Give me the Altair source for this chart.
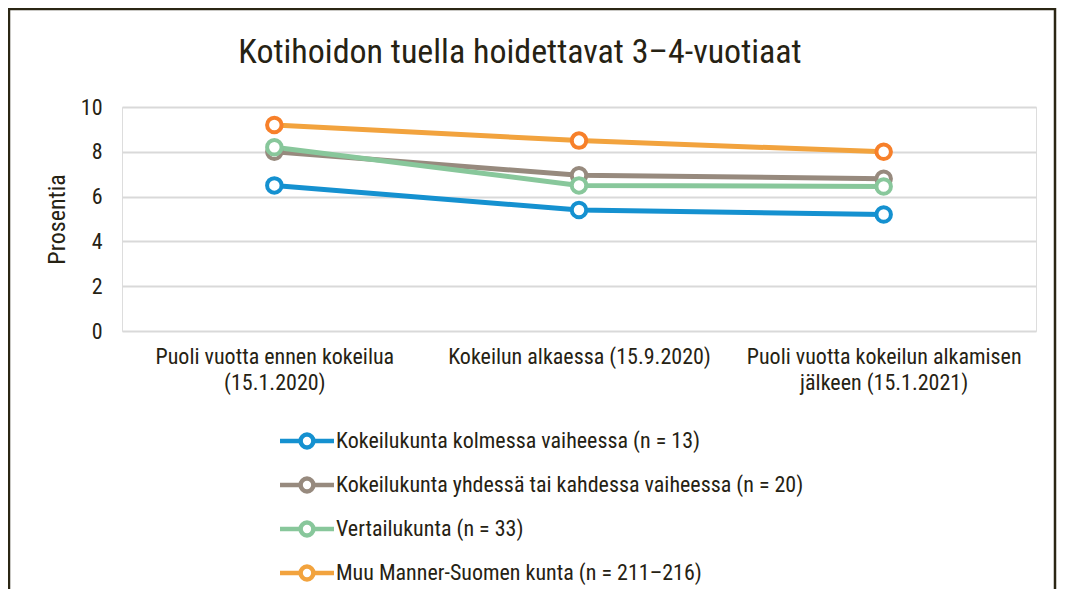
import altair as alt
import pandas as pd

periods = [
    "Puoli vuotta ennen kokeilua|(15.1.2020)",
    "Kokeilun alkaessa (15.9.2020)",
    "Puoli vuotta kokeilun alkamisen|jälkeen (15.1.2021)",
]
series = [
    "Kokeilukunta kolmessa vaiheessa (n = 13)",
    "Kokeilukunta yhdessä tai kahdessa vaiheessa (n = 20)",
    "Vertailukunta (n = 33)",
    "Muu Manner-Suomen kunta (n = 211–216)",
]
line_colors = ["#1591d0", "#978a7e", "#88c79b", "#f2a33e"]
point_colors = ["#1591d0", "#978a7e", "#88c79b", "#f7802a"]

blue_vals = [6.5, 5.4, 5.2]
gray_vals = [8.0, 6.95, 6.8]
green_vals = [8.2, 6.5, 6.45]
orange_vals = [9.2, 8.5, 8.0]

rows = []
for s, vals in zip(series, [blue_vals, gray_vals, green_vals, orange_vals]):
    for p, v in zip(periods, vals):
        rows.append({"series": s, "period": p, "value": v})
df = pd.DataFrame(rows)

FONT = "Roboto Condensed, Liberation Sans Narrow, Arial Narrow, sans-serif"
TXT = "#262213"

x_enc = alt.X(
    "period:N",
    sort=periods,
    scale=alt.Scale(paddingInner=0, paddingOuter=0),
    axis=alt.Axis(
        title=None,
        labelAngle=0,
        labelExpr="split(datum.label, '|')",
        labelFontSize=22,
        labelLineHeight=26,
        labelPadding=15,
        labelLimit=400,
        labelColor=TXT,
        labelFont=FONT,
        domain=False,
        ticks=False,
        grid=False,
    ),
)
y_enc = alt.Y(
    "value:Q",
    scale=alt.Scale(domain=[0, 10]),
    axis=alt.Axis(
        title="Prosentia",
        values=[0, 2, 4, 6, 8, 10],
        labelFontSize=22,
        labelPadding=20,
        labelColor=TXT,
        labelFont=FONT,
        titleFontSize=24,
        titleFontWeight="normal",
        titleColor=TXT,
        titleFont=FONT,
        titlePadding=11,
        domain=False,
        ticks=False,
        grid=True,
        gridColor="#d9d9d9",
        gridWidth=2,
    ),
)
legend = alt.Legend(
    title=None,
    orient="none",
    legendX=174,
    legendY=323,
    direction="vertical",
    symbolType="M-4,0H-0.95M0.95,0H4M0.95,0A0.95,0.95 0 1,1 -0.95,0A0.95,0.95 0 1,1 0.95,0Z",
    symbolSize=182,
    symbolStrokeWidth=4.5,
    symbolFillColor="white",
    labelFontSize=22,
    labelFont=FONT,
    labelColor=TXT,
    labelOffset=18,
    labelLimit=700,
    rowPadding=12,
    padding=0,
)

lines = alt.Chart(df).mark_line(strokeWidth=5).encode(
    x=x_enc,
    y=y_enc,
    color=alt.Color("series:N", sort=series, scale=alt.Scale(domain=series, range=line_colors), legend=legend),
)
points = alt.Chart(df).mark_point(
    filled=False, fill="white", fillOpacity=1, size=210, strokeWidth=4, opacity=1
).encode(
    x=x_enc,
    y=y_enc,
    color=alt.Color("series:N", sort=series, scale=alt.Scale(domain=series, range=point_colors), legend=None),
)

border = alt.Chart(pd.DataFrame({"b": [0]})).mark_rect(
    fillOpacity=0, stroke="#2b2614", strokeWidth=2.5
).encode(
    x=alt.value(-113), x2=alt.value(933), y=alt.value(-98), y2=alt.value(600)
)

chart = alt.layer(border, lines, points).resolve_scale(color="independent").properties(
    width=914,
    height=224,
    title=alt.Title(
        "Kotihoidon tuella hoidettavat 3–4-vuotiaat",
        fontSize=34,
        fontWeight="normal",
        font=FONT,
        color=TXT,
        anchor="middle",
        baseline="alphabetic",
        dx=-59,
        offset=-89,
    ),
    autosize=alt.AutoSizeParams(type="none"),
    padding={"left": 114, "top": 99, "right": 21, "bottom": 258},
).configure_view(stroke=None).configure(background="white")

chart.save("out.html", embed_options={"renderer": "svg", "actions": False})
